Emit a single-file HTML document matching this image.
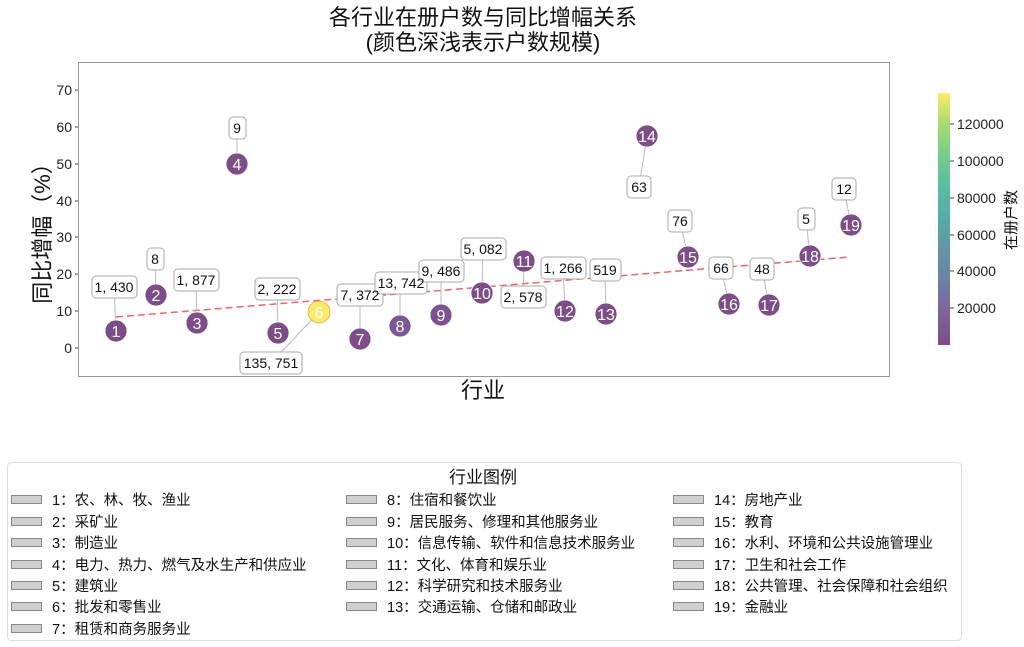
<!DOCTYPE html>
<html><head><meta charset="utf-8"><style>
html,body{margin:0;padding:0;background:#fff;}
svg{display:block;font-family:"Liberation Sans","Noto Sans CJK SC",sans-serif;}
</style></head><body>
<svg width="1024" height="647" viewBox="0 0 1024 647" xmlns="http://www.w3.org/2000/svg">
<defs>
<linearGradient id="vir" x1="0" y1="1" x2="0" y2="0">
<stop offset="0" stop-color="#7c4d87"/>
<stop offset="0.13" stop-color="#7d649a"/>
<stop offset="0.25" stop-color="#6f80a4"/>
<stop offset="0.38" stop-color="#6196a8"/>
<stop offset="0.5" stop-color="#57aaa8"/>
<stop offset="0.63" stop-color="#59bea0"/>
<stop offset="0.75" stop-color="#75cd8c"/>
<stop offset="0.88" stop-color="#a9db70"/>
<stop offset="1" stop-color="#fdee67"/>
</linearGradient>
</defs>
<text x="483" y="25" font-size="22" text-anchor="middle" fill="#111">各行业在册户数与同比增幅关系</text>
<text x="483" y="50" font-size="22" text-anchor="middle" fill="#111">(颜色深浅表示户数规模)</text>

<rect x="78.5" y="62.5" width="811" height="314" fill="#fff" stroke="#999"/>
<g font-size="14" fill="#222" text-anchor="end">
<text x="72" y="95">70</text><text x="72" y="132">60</text><text x="72" y="169">50</text>
<text x="72" y="206">40</text><text x="72" y="242">30</text><text x="72" y="279">20</text>
<text x="72" y="316">10</text><text x="72" y="353">0</text>
</g>
<g stroke="#444"><line x1="75" x2="78" y1="90" y2="90"/><line x1="75" x2="78" y1="127" y2="127"/><line x1="75" x2="78" y1="164" y2="164"/><line x1="75" x2="78" y1="201" y2="201"/><line x1="75" x2="78" y1="237" y2="237"/><line x1="75" x2="78" y1="274" y2="274"/><line x1="75" x2="78" y1="311" y2="311"/><line x1="75" x2="78" y1="348" y2="348"/></g>
<text transform="translate(50,228) rotate(-90)" font-size="22" text-anchor="middle" fill="#111">同比增幅（%）</text>
<text x="483" y="398" font-size="22" text-anchor="middle" fill="#111">行业</text>

<line x1="116" y1="317" x2="850" y2="257" stroke="#ee6666" stroke-width="1.5" stroke-dasharray="7,4"/>

<g stroke="#bbb" stroke-width="1">
<line x1="116" y1="331" x2="114" y2="287"/><line x1="156" y1="295" x2="155" y2="259"/>
<line x1="197" y1="323" x2="196" y2="280"/><line x1="237" y1="164" x2="237" y2="128"/>
<line x1="278" y1="333" x2="277" y2="289"/><line x1="319" y1="312" x2="271" y2="363"/>
<line x1="360" y1="339" x2="360" y2="295"/><line x1="400" y1="326" x2="400" y2="283"/>
<line x1="441" y1="315" x2="441" y2="271"/><line x1="482" y1="293" x2="483" y2="249"/>
<line x1="524" y1="261" x2="523" y2="297"/><line x1="565" y1="311" x2="563" y2="268"/>
<line x1="606" y1="314" x2="605" y2="270"/><line x1="647" y1="136" x2="639" y2="187"/>
<line x1="688" y1="257" x2="680" y2="221"/><line x1="729" y1="304" x2="721" y2="268"/>
<line x1="769" y1="305" x2="762" y2="269"/><line x1="810" y1="256" x2="806" y2="219"/>
<line x1="851" y1="225" x2="844" y2="189"/>
</g>

<g stroke="#fff" stroke-width="0.8" fill="#7c4d87">
<circle cx="116" cy="331" r="11"/><circle cx="156" cy="295" r="11"/><circle cx="197" cy="323" r="11"/>
<circle cx="237" cy="164" r="11"/><circle cx="278" cy="333" r="11"/>
<circle cx="319" cy="312" r="11" fill="#fdea6a" stroke="#c9b23a"/>
<circle cx="360" cy="339" r="11"/><circle cx="400" cy="326" r="11" fill="#7d5793"/>
<circle cx="441" cy="315" r="11" fill="#7c5290"/><circle cx="482" cy="293" r="11"/>
<circle cx="524" cy="261" r="11"/><circle cx="565" cy="311" r="11"/><circle cx="606" cy="314" r="11"/>
<circle cx="647" cy="136" r="11"/><circle cx="688" cy="257" r="11"/><circle cx="729" cy="304" r="11"/>
<circle cx="769" cy="305" r="11"/><circle cx="810" cy="256" r="11"/><circle cx="851" cy="225" r="11"/>
</g>
<g font-size="16" fill="#fff" text-anchor="middle">
<text x="116" y="337">1</text><text x="156" y="301">2</text><text x="197" y="329">3</text>
<text x="237" y="170">4</text><text x="278" y="339">5</text><text x="319" y="318">6</text>
<text x="360" y="345">7</text><text x="400" y="332">8</text><text x="441" y="321">9</text>
<text x="482" y="299">10</text><text x="524" y="267">11</text><text x="565" y="317">12</text>
<text x="606" y="320">13</text><text x="647" y="142">14</text><text x="688" y="263">15</text>
<text x="729" y="310">16</text><text x="769" y="311">17</text><text x="810" y="262">18</text>
<text x="851" y="231">19</text>
</g>

<g fill="#fff" stroke="#aaa" stroke-width="1">
<rect x="92" y="276" width="45" height="22" rx="4"/>
<rect x="147" y="248" width="17" height="22" rx="4"/>
<rect x="174" y="269" width="45" height="22" rx="4"/>
<rect x="229" y="117" width="17" height="22" rx="4"/>
<rect x="255" y="278" width="45" height="22" rx="4"/>
<rect x="240" y="352" width="62" height="22" rx="4"/>
<rect x="337" y="284" width="46" height="22" rx="4"/>
<rect x="375" y="272" width="52" height="22" rx="4"/>
<rect x="419" y="260" width="45" height="22" rx="4"/>
<rect x="461" y="238" width="45" height="22" rx="4"/>
<rect x="501" y="286" width="45" height="22" rx="4"/>
<rect x="541" y="257" width="45" height="22" rx="4"/>
<rect x="590" y="259" width="31" height="22" rx="4"/>
<rect x="627" y="176" width="24" height="22" rx="4"/>
<rect x="668" y="210" width="24" height="22" rx="4"/>
<rect x="709" y="257" width="24" height="22" rx="4"/>
<rect x="750" y="258" width="24" height="22" rx="4"/>
<rect x="798" y="208" width="17" height="22" rx="4"/>
<rect x="832" y="178" width="24" height="22" rx="4"/>
</g>
<g font-size="14" fill="#111" text-anchor="middle">
<text x="114" y="292">1, 430</text><text x="155" y="264">8</text><text x="196" y="285">1, 877</text>
<text x="237" y="133">9</text><text x="277" y="294">2, 222</text><text x="271" y="368">135, 751</text>
<text x="360" y="300">7, 372</text><text x="401" y="288">13, 742</text><text x="441" y="276">9, 486</text>
<text x="483" y="254">5, 082</text><text x="523" y="302">2, 578</text><text x="563" y="273">1, 266</text>
<text x="605" y="275">519</text><text x="639" y="192">63</text><text x="680" y="226">76</text>
<text x="721" y="273">66</text><text x="762" y="274">48</text><text x="806" y="224">5</text>
<text x="844" y="194">12</text>
</g>

<rect x="938" y="93" width="12" height="252" fill="url(#vir)"/>
<g stroke="#444"><line x1="950" x2="954" y1="124" y2="124"/><line x1="950" x2="954" y1="161" y2="161"/><line x1="950" x2="954" y1="198" y2="198"/><line x1="950" x2="954" y1="235" y2="235"/><line x1="950" x2="954" y1="271" y2="271"/><line x1="950" x2="954" y1="308" y2="308"/></g>
<g font-size="14" fill="#222">
<text x="957" y="129">120000</text><text x="957" y="166">100000</text><text x="957" y="203">80000</text>
<text x="957" y="240">60000</text><text x="957" y="276">40000</text><text x="957" y="313">20000</text>
</g>
<text transform="translate(1016,220) rotate(-90)" font-size="15" text-anchor="middle" fill="#111">在册户数</text>

<rect x="7.5" y="462.5" width="954" height="178" rx="4" fill="#fff" stroke="#ddd"/>
<text x="483" y="483" font-size="17" text-anchor="middle" fill="#111">行业图例</text>
<g fill="#d0d0d0" stroke="#888" stroke-width="1">
<rect x="11.5" y="495.5" width="30" height="8"/><rect x="11.5" y="517.5" width="30" height="8"/>
<rect x="11.5" y="538.5" width="30" height="8"/><rect x="11.5" y="560.5" width="30" height="8"/>
<rect x="11.5" y="581.5" width="30" height="8"/><rect x="11.5" y="602.5" width="30" height="8"/>
<rect x="11.5" y="624.5" width="30" height="8"/>
<rect x="346.5" y="495.5" width="30" height="8"/><rect x="346.5" y="517.5" width="30" height="8"/>
<rect x="346.5" y="538.5" width="30" height="8"/><rect x="346.5" y="560.5" width="30" height="8"/>
<rect x="346.5" y="581.5" width="30" height="8"/><rect x="346.5" y="602.5" width="30" height="8"/>
<rect x="673.5" y="495.5" width="30" height="8"/><rect x="673.5" y="517.5" width="30" height="8"/>
<rect x="673.5" y="538.5" width="30" height="8"/><rect x="673.5" y="560.5" width="30" height="8"/>
<rect x="673.5" y="581.5" width="30" height="8"/><rect x="673.5" y="602.5" width="30" height="8"/>
</g>
<g font-size="14.5" fill="#111">
<text x="52" y="505">1：农、林、牧、渔业</text>
<text x="52" y="527">2：采矿业</text>
<text x="52" y="548">3：制造业</text>
<text x="52" y="570">4：电力、热力、燃气及水生产和供应业</text>
<text x="52" y="591">5：建筑业</text>
<text x="52" y="612">6：批发和零售业</text>
<text x="52" y="634">7：租赁和商务服务业</text>
<text x="387" y="505">8：住宿和餐饮业</text>
<text x="387" y="527">9：居民服务、修理和其他服务业</text>
<text x="387" y="548">10：信息传输、软件和信息技术服务业</text>
<text x="387" y="570">11：文化、体育和娱乐业</text>
<text x="387" y="591">12：科学研究和技术服务业</text>
<text x="387" y="612">13：交通运输、仓储和邮政业</text>
<text x="714" y="505">14：房地产业</text>
<text x="714" y="527">15：教育</text>
<text x="714" y="548">16：水利、环境和公共设施管理业</text>
<text x="714" y="570">17：卫生和社会工作</text>
<text x="714" y="591">18：公共管理、社会保障和社会组织</text>
<text x="714" y="612">19：金融业</text>
</g>
</svg>
</body></html>
